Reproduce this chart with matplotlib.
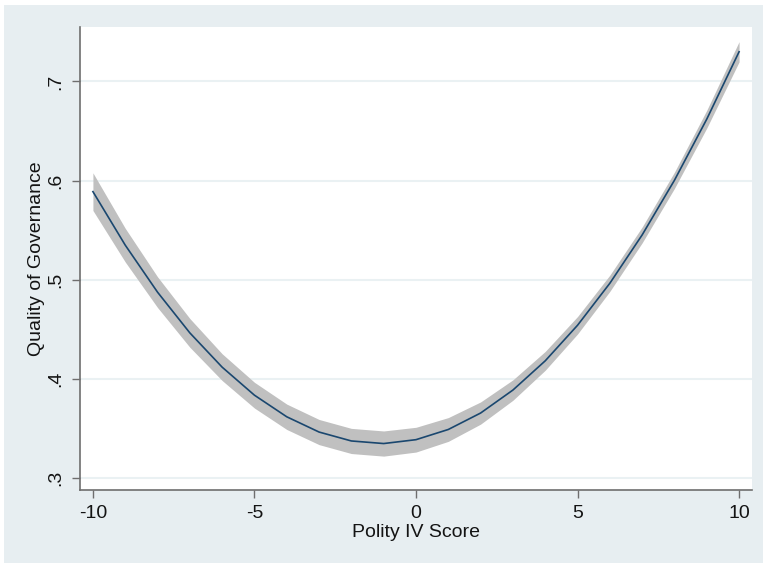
"""
Quadratic fit of governance quality on Polity IV score, with 95% CI band.
"""

import matplotlib.pyplot as plt
from matplotlib.patches import Rectangle

plt.rcParams["font.family"] = ["Liberation Sans", "DejaVu Sans"]

# Fitted values and confidence limits at each Polity IV score
polity = [-10, -9, -8, -7, -6, -5, -4, -3, -2, -1, 0,
          1, 2, 3, 4, 5, 6, 7, 8, 9, 10]
qog_fit = [0.5888, 0.5348, 0.4873, 0.4462, 0.4116, 0.3833, 0.3615,
           0.3461, 0.3371, 0.3345, 0.3384, 0.3487, 0.3653, 0.3885,
           0.4180, 0.4539, 0.4963, 0.5451, 0.6003, 0.6620, 0.7300]
ci_low = [0.5698, 0.5178, 0.4718, 0.4317, 0.3981, 0.3703, 0.3487,
          0.3334, 0.3244, 0.3218, 0.3259, 0.3367, 0.3541, 0.3782,
          0.4085, 0.4451, 0.4881, 0.5371, 0.5921, 0.6530, 0.7198]
ci_high = [0.6078, 0.5518, 0.5028, 0.4607, 0.4251, 0.3963, 0.3743,
           0.3588, 0.3498, 0.3472, 0.3509, 0.3607, 0.3765, 0.3988,
           0.4275, 0.4627, 0.5045, 0.5531, 0.6085, 0.6710, 0.7402]

x_ticks = [-10, -5, 0, 5, 10]
y_ticks = [0.3, 0.4, 0.5, 0.6, 0.7]
y_tick_labels = [".3", ".4", ".5", ".6", ".7"]

W, H = 765, 563
fig = plt.figure(figsize=(W / 100, H / 100), dpi=100, facecolor="white")

# Stata-style graph region, kept behind the axes
region = Rectangle((4 / W, 0), 759 / W, 558 / H, transform=fig.transFigure,
                   facecolor="#E7EEF1", edgecolor="none", zorder=-10)
fig.add_artist(region)

ax = fig.add_axes([80 / W, 73 / H, 672 / W, 463 / H])
ax.set_zorder(1)
ax.set_facecolor("white")

ax.fill_between(polity, ci_low, ci_high, color="#C0C0C0", linewidth=0,
                zorder=2)
ax.plot(polity, qog_fit, color="#1A476F", linewidth=1.2, zorder=3)

ax.set_xlim(-10.4, 10.4)
ax.set_ylim(0.2876, 0.755)

ax.set_xticks(x_ticks)
ax.set_xticklabels([str(t) for t in x_ticks])
ax.set_yticks(y_ticks)
ax.set_yticklabels(y_tick_labels, rotation=90, va="center")

ax.yaxis.grid(True, color="#EAF1F3", linewidth=1.5, zorder=1)
ax.set_axisbelow(True)

for side in ["top", "right"]:
    ax.spines[side].set_visible(False)
for side in ["left", "bottom"]:
    ax.spines[side].set_color("#6E6E6E")
    ax.spines[side].set_linewidth(1.2)

ax.tick_params(axis="both", length=6, width=1, color="#6E6E6E",
               labelsize=14, labelcolor="#141414", pad=5)

ax.set_xlabel("Polity IV Score", fontsize=14, color="#141414", labelpad=1)
ax.set_ylabel("Quality of Governance", fontsize=14, color="#141414",
              labelpad=2)

fig.savefig("out.png", dpi=100, facecolor=fig.get_facecolor())
